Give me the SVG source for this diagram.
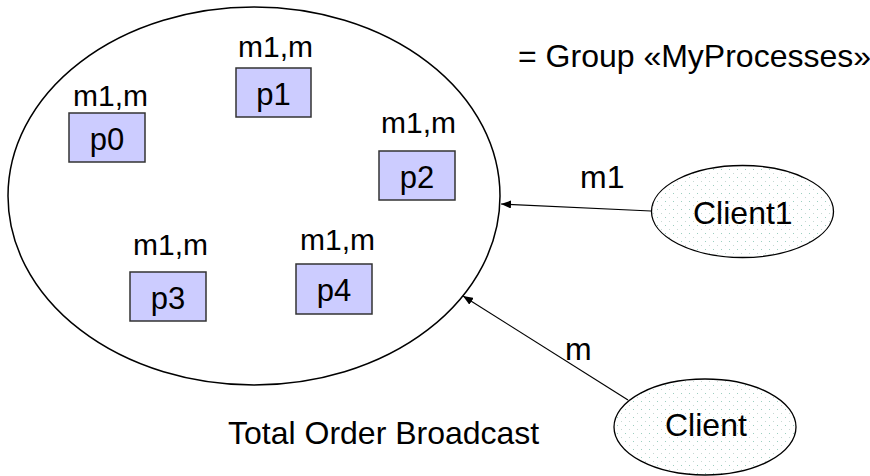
<svg xmlns="http://www.w3.org/2000/svg" width="870" height="476" viewBox="0 0 870 476">
  <style>
    text { font-family: "Liberation Sans", Arial, sans-serif; fill: #000; }
    .big { font-size: 32px; }
    .lbl { font-size: 30px; }
    .pid { font-size: 31px; text-anchor: middle; }
    .proc { fill: #ccccff; stroke: #333; stroke-width: 1.5; }
    .group { fill: none; stroke: #000; stroke-width: 1.5; }
    .client { fill: url(#dots); stroke: #000; stroke-width: 1.3; }
    .conn { stroke: #000; stroke-width: 1.2; fill: none; marker-end: url(#head); }
  </style>
  <defs>
    <pattern id="dots" width="8" height="8" patternUnits="userSpaceOnUse">
      <rect width="8" height="8" fill="#fff"/>
      <rect x="1" y="1" width="1" height="1" fill="#9ccfc0"/>
      <rect x="5" y="5" width="1" height="1" fill="#c6d8d2"/>
    </pattern>
    <marker id="head" viewBox="0 0 10 8" refX="10" refY="4" markerWidth="10" markerHeight="8" markerUnits="userSpaceOnUse" orient="auto">
      <path d="M0,0 L10,4 L0,8 Z" fill="#000"/>
    </marker>
  </defs>

  <!-- process group -->
  <g id="group">
    <ellipse class="group" cx="254" cy="196" rx="246" ry="189"/>
  </g>
  <text class="big" x="518" y="67">= Group «MyProcesses»</text>
  <text class="big" x="228" y="444">Total Order Broadcast</text>

  <g id="p0">
    <text class="lbl" x="73" y="106">m1,m</text>
    <rect class="proc" x="69" y="113" width="76" height="49"/>
    <text class="pid" x="107" y="150">p0</text>
  </g>
  <g id="p1">
    <text class="lbl" x="238" y="57">m1,m</text>
    <rect class="proc" x="236" y="68" width="75" height="49"/>
    <text class="pid" x="273.5" y="105">p1</text>
  </g>
  <g id="p2">
    <text class="lbl" x="381" y="133">m1,m</text>
    <rect class="proc" x="379" y="151" width="76" height="49"/>
    <text class="pid" x="417" y="188">p2</text>
  </g>
  <g id="p3">
    <text class="lbl" x="133" y="255">m1,m</text>
    <rect class="proc" x="130" y="272" width="76" height="49"/>
    <text class="pid" x="168" y="309">p3</text>
  </g>
  <g id="p4">
    <text class="lbl" x="300" y="250">m1,m</text>
    <rect class="proc" x="296" y="264" width="76" height="50"/>
    <text class="pid" x="334" y="301">p4</text>
  </g>

  <g id="client1">
    <ellipse class="client" cx="742.5" cy="211.5" rx="91" ry="46"/>
    <text class="big" x="693" y="224">Client1</text>
  </g>
  <g id="client">
    <ellipse class="client" cx="705" cy="427" rx="91" ry="48"/>
    <text class="big" x="665" y="436">Client</text>
  </g>

  <g id="connectors">
    <line class="conn" x1="651" y1="211" x2="501" y2="204"/>
    <line class="conn" x1="628" y1="400" x2="463" y2="296"/>
    <text class="big" x="580" y="188">m1</text>
    <text class="big" x="565" y="360">m</text>
  </g>
</svg>
